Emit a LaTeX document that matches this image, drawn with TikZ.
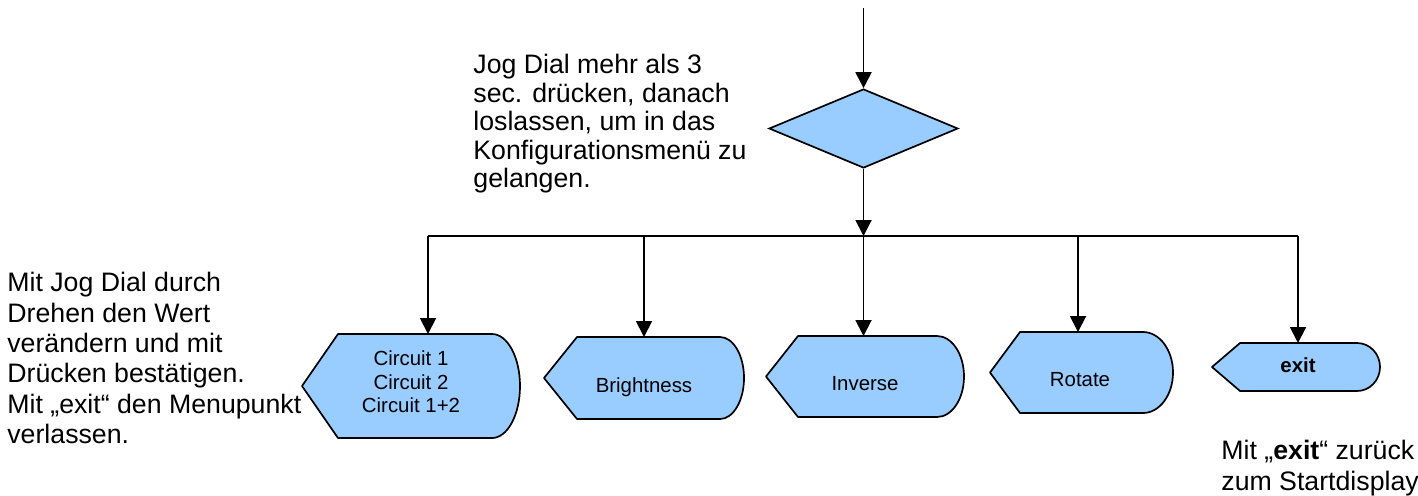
\documentclass[tikz,border=0pt]{standalone}
\usepackage{fontspec}
\setmainfont{Liberation Sans}
\usetikzlibrary{shapes.geometric,arrows.meta}
\definecolor{boxblue}{HTML}{99CCFF}
\tikzset{
  flow/.style={line width=0.95pt},
  arr/.style={flow,-{Triangle[width=8pt,length=8pt]}},
  dispfill/.style={draw=black,line width=0.85pt,fill=boxblue,line join=round},
  decision/.style={diamond,draw,line width=0.85pt,fill=boxblue,
    minimum width=94.5pt,minimum height=39.5pt,inner sep=0pt},
  note/.style={align=left,inner sep=0pt,anchor=north west,
    font=\fontsize{13.35}{15.2}\selectfont},
  boxtext/.style={align=center,inner sep=0pt,
    font=\fontsize{10.2}{11.75}\selectfont},
}
% display symbol: pointed left end, flat top and bottom, elliptic right end
% #1 left tip x, #2 corner x, #3 start of curve x, #4 right x, #5 top y, #6 bottom y
\newcommand\dispshape[6]{%
  \pgfmathsetmacro\dsmid{(#5+#6)/2}%
  \pgfmathsetmacro\dskx{#3+0.5523*(#4-#3)}%
  \pgfmathsetmacro\dskya{\dsmid-0.5523*(\dsmid-#5)}%
  \pgfmathsetmacro\dskyb{\dsmid+0.5523*(#6-\dsmid)}%
  \draw[dispfill] (#1,\dsmid) -- (#2,#5) -- (#3,#5)
    .. controls (\dskx,#5) and (#4,\dskya) .. (#4,\dsmid)
    .. controls (#4,\dskyb) and (\dskx,#6) .. (#3,#6)
    -- (#2,#6) -- cycle;}
\begin{document}
\begin{tikzpicture}[x=0.5pt,y=-0.5pt]
\useasboundingbox (0,0) rectangle (1418,495);

% decision and bus
\coordinate (start) at (863.5,8);
\node[decision] (dec) at (863.5,128.5) {};
\coordinate (bus) at (863.5,236);
\coordinate (b1) at (428,236);
\coordinate (b2) at (644,236);
\coordinate (b3) at (863.5,236);
\coordinate (b4) at (1078,236);
\coordinate (b5) at (1298,236);

% display symbols
\dispshape{302}{338}{492}{520}{334}{438}
\dispshape{544}{577}{720}{744}{337}{419}
\dispshape{766}{798}{937}{964}{336}{417}
\dispshape{990}{1020}{1143}{1173}{332}{413}
\dispshape{1212}{1240}{1357}{1380}{343}{391}

% tops of the display symbols
\coordinate (t1) at (428,334);
\coordinate (t2) at (644,337);
\coordinate (t3) at (863.5,336);
\coordinate (t4) at (1078,332);
\coordinate (t5) at (1298,343);

% labels inside the symbols
\node[boxtext] (circ) at (411,382) {Circuit 1\\Circuit 2\\Circuit 1+2};
\node[boxtext,anchor=base] (bright) at (644,392) {Brightness};
\node[boxtext,anchor=base] (inv) at (865,390) {Inverse};
\node[boxtext,anchor=base] (rot) at (1080,386) {Rotate};
\node[boxtext,anchor=base,font=\fontsize{10.2}{11.75}\selectfont\bfseries] (ex) at (1298,372) {exit};

% connectors
\draw[arr] (start) -- (dec.north);
\draw[arr] (dec.south) -- (bus);
\draw[flow] (b1) -- (b5);
\draw[arr] (b1) -- (t1);
\draw[arr] (b2) -- (t2);
\draw[arr] (b3) -- (t3);
\draw[arr] (b4) -- (t4);
\draw[arr] (b5) -- (t5);

% notes
\node[note,font=\fontsize{13.35}{14.25}\selectfont] (topnote) at (473,54) {Jog Dial mehr als 3\\sec. drücken, danach\\loslassen, um in das\\Konfigurationsmenü zu\\gelangen.};
\node[note] (leftnote) at (7,272) {Mit Jog Dial durch\\Drehen den Wert\\verändern und mit\\Drücken bestätigen.\\Mit „exit“ den Menupunkt\\verlassen.};
\node[note] (exitnote) at (1221,440) {Mit „\textbf{exit}“ zurück\\zum Startdisplay};
\end{tikzpicture}
\end{document}
